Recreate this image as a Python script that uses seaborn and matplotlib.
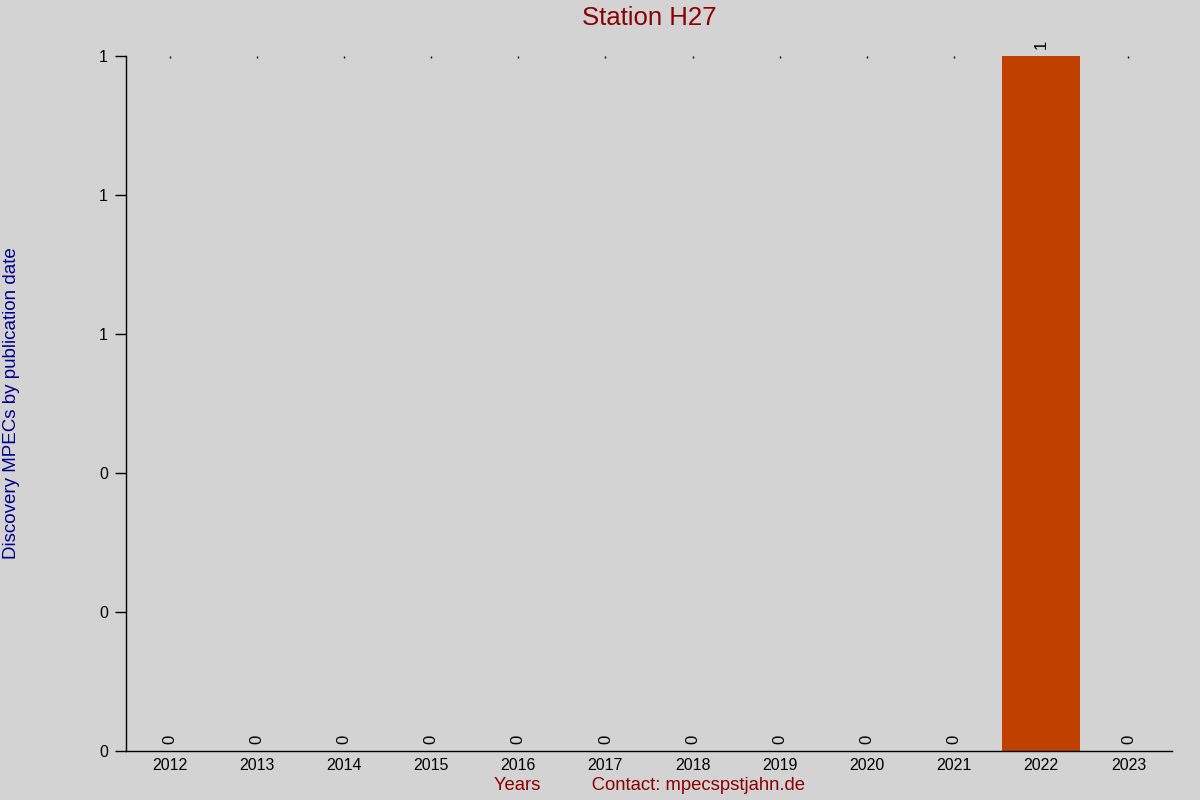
import matplotlib
matplotlib.use("Agg")
import matplotlib.pyplot as plt
import seaborn as sns
import pandas as pd

# ---- data ----
years = ["2012", "2013", "2014", "2015", "2016", "2017",
         "2018", "2019", "2020", "2021", "2022", "2023"]
mpecs = [0, 0, 0, 0, 0, 0, 0, 0, 0, 0, 1, 0]
ytick_values = [0.0, 0.2, 0.4, 0.6, 0.8, 1.0]
ytick_labels = ["0", "0", "0", "1", "1", "1"]

title = "Station H27"
ylabel = "Discovery MPECs by publication date"
xlabel = "Years          Contact: mpecspstjahn.de"

df = pd.DataFrame({"year": years, "count": mpecs})

sns.set_theme(style="white")
plt.rcParams["font.family"] = ["Liberation Sans", "DejaVu Sans"]

bg = "#d3d3d3"
fig = plt.figure(figsize=(12, 8), dpi=100, facecolor=bg)
ax = fig.add_axes([126 / 1200, 1 - 751 / 800, (1172 - 126) / 1200, (751 - 56) / 800])
ax.set_facecolor(bg)

sns.barplot(data=df, x="year", y="count", color="#c04000", width=0.9,
            saturation=1, ax=ax, edgecolor="none")

ax.set_xlim(-0.5, len(years) - 0.5)
ax.set_ylim(0, 1)
ax.set_yticks(ytick_values)
ax.set_yticklabels(ytick_labels)

for c in ax.containers:
    ax.bar_label(c, labels=[str(v) for v in mpecs], rotation=90, padding=5,
                 fontsize=12, color="black")

for s in ["top", "right"]:
    ax.spines[s].set_visible(False)
for s in ["left", "bottom"]:
    ax.spines[s].set_color("black")
    ax.spines[s].set_linewidth(1)

ax.tick_params(axis="y", left=True, length=8, width=1, color="black",
               labelsize=11.5, labelcolor="black", pad=5)
ax.tick_params(axis="x", bottom=False, top=True, direction="in", length=1.2,
               width=1, color="black", labelsize=11.5, labelcolor="black",
               labelbottom=True, labeltop=False, pad=5)

ax.set_xlabel("")
ax.set_ylabel("")

fig.text(649 / 1200, 1 - 18 / 800, title, ha="center", va="center",
         fontsize=18.5, color="#8b0000")
fig.text(12 / 1200, 1 - 403 / 800, ylabel, ha="center", va="center",
         rotation=90, fontsize=13.5, color="#00008b")
fig.text(649 / 1200, 1 - 786 / 800, xlabel, ha="center", va="center",
         fontsize=13.3, color="#8b0000")

fig.savefig("out.png", dpi=100, facecolor=bg)
